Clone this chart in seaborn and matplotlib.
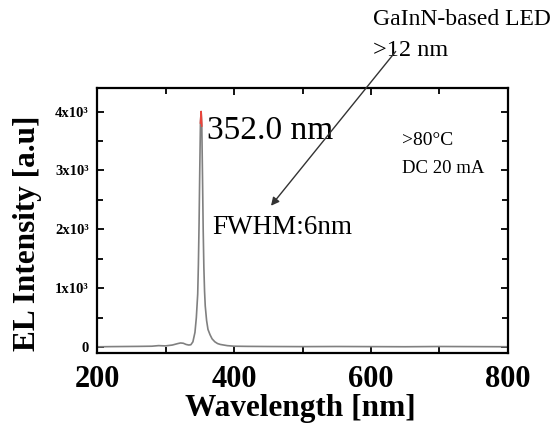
import matplotlib
matplotlib.use("Agg")
import matplotlib.pyplot as plt
from matplotlib.ticker import MultipleLocator, FixedLocator, FixedFormatter
import seaborn as sns
import pandas as pd

# EL spectrum
wavelength = [200, 220, 240, 260, 280, 290, 300, 310, 318, 322, 326, 330, 334, 337,
              340, 343, 345, 347, 348, 349, 350, 351, 352, 353, 354, 355, 356, 357,
              358, 360, 362, 365, 368, 372, 376, 380, 390, 400, 420, 450, 500, 550,
              600, 650, 700, 750, 800]
intensity = [5, 8, 10, 12, 15, 25, 20, 35, 60, 70, 65, 45, 35, 40,
             90, 250, 500, 900, 1400, 2100, 3000, 3800, 4000, 3750, 2900, 2000, 1350, 950,
             700, 450, 300, 210, 140, 90, 60, 45, 25, 15, 12, 10, 8, 10,
             8, 6, 10, 8, 6]

y_ticks = [0, 1000, 2000, 3000, 4000]
y_tick_labels = ["0", "1x10³", "2x10³", "3x10³", "4x10³"]
x_ticks = [200, 400, 600, 800]

peak_label = "352.0 nm"
fwhm_label = "FWHM:6nm"
cond_labels = [">80°C", "DC 20 mA"]
led_labels = ["GaInN-based LED", ">12 nm"]

df = pd.DataFrame({"wavelength": wavelength, "intensity": intensity})
tip = df[df["intensity"] >= 3750]

sns.set_theme(style="ticks", rc={"text.color": "black", "axes.labelcolor": "black",
                                 "xtick.color": "black", "ytick.color": "black"})
plt.rcParams["font.family"] = ["Liberation Serif", "DejaVu Serif"]

fig = plt.figure(figsize=(5.55, 4.29), dpi=100)
ax = fig.add_axes([0.1748, 0.1772, 0.7405, 0.6177])

sns.lineplot(ax=ax, data=df, x="wavelength", y="intensity", color="#808080", linewidth=1.2)
sns.lineplot(ax=ax, data=tip, x="wavelength", y="intensity", color="#e8453c", linewidth=1.2)

ax.set_xlim(200, 800)
ax.set_ylim(-100, 4400)

ax.xaxis.set_major_locator(FixedLocator(x_ticks))
ax.xaxis.set_minor_locator(MultipleLocator(100))
ax.yaxis.set_major_locator(FixedLocator(y_ticks))
ax.yaxis.set_major_formatter(FixedFormatter(y_tick_labels))
ax.yaxis.set_minor_locator(MultipleLocator(500))

for s in ax.spines.values():
    s.set_linewidth(1.6)
    s.set_color("black")

ax.tick_params(which="both", direction="in", top=True, right=True, colors="black", width=1.3)
ax.tick_params(which="major", length=5)
ax.tick_params(which="minor", length=4)
ax.tick_params(axis="x", which="major", labelsize=22, pad=9)
ax.tick_params(axis="y", which="major", labelsize=10.5, pad=6)
for lab in ax.get_xticklabels() + ax.get_yticklabels():
    lab.set_fontweight("bold")

ax.set_xlabel("Wavelength [nm]", fontsize=22.5, fontweight="bold")
ax.set_ylabel("EL Intensity [a.u]", fontsize=22.5, fontweight="bold")
ax.xaxis.label.set_va("center")
ax.yaxis.label.set_va("center")
ax.xaxis.set_label_coords(0.494, -0.208)
ax.yaxis.set_label_coords(-0.168, 0.453)

ax.text(361, 3680, peak_label, fontsize=24, va="center", ha="left")
ax.text(369, 2037, fwhm_label, fontsize=19.5, va="center", ha="left")
ax.text(645, 3500, cond_labels[0], fontsize=14, va="center", ha="left", clip_on=False)
ax.text(645, 3030, cond_labels[1], fontsize=13.5, va="center", ha="left", clip_on=False)
ax.text(603, 5560, led_labels[0], fontsize=17, va="center", ha="left", clip_on=False)
ax.text(603, 5040, led_labels[1], fontsize=17.5, va="center", ha="left", clip_on=False)

ax.annotate("", xy=(454, 2400), xytext=(636, 5020), xycoords="data", textcoords="data",
            annotation_clip=False,
            arrowprops=dict(arrowstyle="-|>", color="#333333", lw=1.0, mutation_scale=12,
                            shrinkA=0, shrinkB=0))

fig.savefig("out.png", dpi=100)
